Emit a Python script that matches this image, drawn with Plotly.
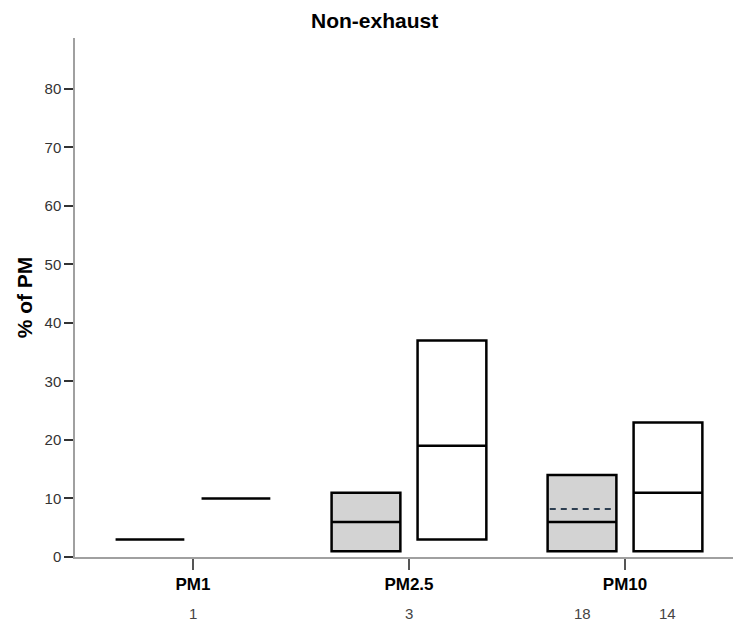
import plotly.graph_objects as go

categories = ["PM1", "PM2.5", "PM10"]
# grey (filled) boxes: range min/max with median; mean drawn dashed where shown
grey_min = [3, 1, 1]
grey_median = [3, 6, 6]
grey_max = [3, 11, 14]
grey_mean = [None, None, 8.2]
# white boxes
white_min = [10, 3, 1]
white_median = [10, 19, 11]
white_max = [10, 37, 23]
# counts shown below the axis: (category index, side of group, text)
count_labels = [(0, 0, "1"), (1, 0, "3"), (2, -1, "18"), (2, 1, "14")]

BOXGAP = 0.204
GROUPGAP = 0.2
slot = (1 - BOXGAP) / 2
box_w = slot * (1 - GROUPGAP)
pos = list(range(len(categories)))

fig = go.Figure()
fig.add_trace(go.Box(
    x=pos, q1=grey_min, median=grey_median, q3=grey_max,
    lowerfence=grey_min, upperfence=grey_max,
    fillcolor="#d3d3d3", line=dict(color="black", width=2.5),
    whiskerwidth=0, boxpoints=False, name="grey", showlegend=False,
    hoverinfo="skip"))
fig.add_trace(go.Box(
    x=pos, q1=white_min, median=white_median, q3=white_max,
    lowerfence=white_min, upperfence=white_max,
    fillcolor="white", line=dict(color="black", width=2.5),
    whiskerwidth=0, boxpoints=False, name="white", showlegend=False,
    hoverinfo="skip"))

# dashed mean lines for grey boxes
for i, m in enumerate(grey_mean):
    if m is None:
        continue
    c = pos[i] - slot / 2
    fig.add_trace(go.Scatter(
        x=[c - box_w / 2 + 0.01, c + box_w / 2 - 0.01], y=[m, m], mode="lines",
        line=dict(color="#2d3e50", width=2, dash="6px,5px"),
        showlegend=False, hoverinfo="skip"))

for idx, side, txt in count_labels:
    fig.add_annotation(x=pos[idx] + side * slot / 2, y=-0.108, xref="x", yref="paper",
                       text=txt, showarrow=False, yanchor="middle",
                       font=dict(size=15, color="#444444",
                                 family="Liberation Sans, Arial"))

fig.update_layout(
    width=733, height=623,
    margin=dict(l=75, r=0, t=38, b=66),
    paper_bgcolor="white", plot_bgcolor="white",
    boxmode="group", boxgap=BOXGAP, boxgroupgap=GROUPGAP,
    title=dict(text="<b>Non-exhaust</b>", x=0.511, xanchor="center", y=0.967,
               yanchor="middle",
               font=dict(size=21, color="black",
                         family="Liberation Sans, Arial")),
    xaxis=dict(range=[-0.546, 2.5], showline=True, automargin=False,
               tickvals=pos, ticktext=["<b>%s</b>" % c for c in categories],
               linecolor="#a0a0a0", linewidth=1.5, showgrid=False, zeroline=False,
               ticks="outside", ticklen=11, tickcolor="#555555", tickwidth=1.5,
               tickfont=dict(size=17, color="black",
                             family="Liberation Sans, Arial")),
    yaxis=dict(range=[0, 88.7], dtick=10, showline=True, linecolor="#a0a0a0",
               linewidth=1.5, showgrid=False, zeroline=False, automargin=False,
               ticks="outside", ticklen=9, tickcolor="#333333", tickwidth=1.8,
               tickfont=dict(size=15, color="#333333",
                             family="Liberation Sans, Arial"),
               title=dict(text="<b>% of PM</b>", standoff=6,
                          font=dict(size=21, color="black",
                                    family="Liberation Sans, Arial"))),
)

fig.write_html("out.html", config={"displayModeBar": False},
               post_script="document.body.style.margin='0';document.body.style.overflow='hidden';")
